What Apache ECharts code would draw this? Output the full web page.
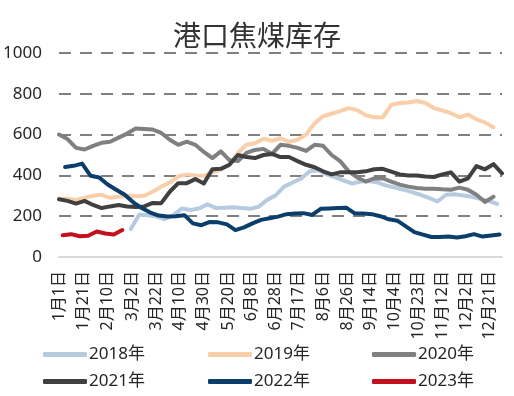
<!DOCTYPE html>
<html>
<head>
<meta charset="utf-8">
<script src="https://cdn.jsdelivr.net/npm/echarts@6/dist/echarts.min.js"></script>
<style>
  html, body { margin: 0; padding: 0; background: #fff; }
  #chart { width: 514px; height: 396px; }
</style>
</head>
<body>
<div id="chart"></div>
<script>
// --- 数据 ---
const TITLE = '港口焦煤库存';
const MONTH_DAYS = [31, 28, 31, 30, 31, 30, 31, 31, 30, 31, 30, 31];
const TICK_LABELS = ['1月1日', '1月21日', '2月10日', '3月2日', '3月22日', '4月10日', '4月30日',
  '5月20日', '6月8日', '6月28日', '7月17日', '8月6日', '8月26日', '9月14日', '10月4日',
  '10月23日', '11月12日', '12月2日', '12月21日'];
const Y_TICKS = [0, 200, 400, 600, 800, 1000];

// 周度数据，首个数据所在的日序号
const START_2018 = 59;
const START_2019 = 0;
const START_2020 = 0;
const START_2021 = 0;
const START_2022 = 5;
const START_2023 = 3;

const data2018 = [137, 208, 205, 198, 185, 205, 238, 230, 238, 258, 240, 242, 244, 240, 236, 246,
  280, 302, 345, 365, 385, 420, 425, 405, 390, 375, 360, 370, 372, 365, 350, 340, 330, 318, 305,
  290, 272, 305, 308, 302, 295, 285, 275, 260];
const data2019 = [285, 285, 280, 290, 300, 305, 290, 295, 300, 298, 300, 320, 345, 365, 395, 405,
  400, 398, 415, 430, 450, 510, 550, 558, 580, 570, 582, 565, 575, 600, 655, 690, 702, 715, 730,
  720, 695, 685, 685, 745, 755, 757, 765, 755, 730, 718, 705, 685, 698, 675, 660, 636];
const data2020 = [600, 578, 535, 527, 545, 560, 565, 585, 605, 630, 628, 625, 608, 575, 550, 565,
  550, 515, 485, 518, 475, 470, 510, 525, 530, 505, 550, 545, 535, 520, 550, 545, 500, 470, 420,
  390, 370, 385, 385, 370, 355, 345, 338, 335, 335, 332, 330, 340, 330, 305, 270, 295];
const data2021 = [283, 275, 262, 275, 255, 240, 248, 255, 248, 245, 248, 265, 264, 320, 362, 362,
  382, 360, 430, 432, 452, 500, 490, 485, 500, 505, 490, 490, 470, 452, 440, 420, 405, 415, 415,
  415, 420, 430, 432, 418, 405, 400, 400, 395, 392, 405, 415, 370, 385, 446, 430, 455, 410];
const data2022 = [441, 447, 458, 398, 390, 355, 330, 305, 268, 240, 218, 203, 198, 200, 205, 165,
  156, 172, 170, 160, 132, 145, 165, 182, 190, 198, 210, 213, 215, 206, 236, 238, 240, 242, 214,
  213, 210, 200, 185, 178, 150, 122, 110, 98, 98, 100, 96, 102, 112, 100, 105, 110];
const data2023 = [107, 112, 102, 104, 125, 115, 110, 132];

const COLORS = {
  y2018: '#b7cbe0',
  y2019: '#f9cfaa',
  y2020: '#808080',
  y2021: '#404040',
  y2022: '#0c3e6c',
  y2023: '#c3101e'
};

// 日期类目（平年）
const categories = [];
MONTH_DAYS.forEach((n, m) => {
  for (let d = 1; d <= n; d++) categories.push(`${m + 1}月${d}日`);
});

const toWeekly = (values, start) => values.map((v, k) => [start + k * 7, v]);

const SERIES_LIST = [
  { name: '2018年', values: data2018, start: START_2018, color: COLORS.y2018 },
  { name: '2019年', values: data2019, start: START_2019, color: COLORS.y2019 },
  { name: '2020年', values: data2020, start: START_2020, color: COLORS.y2020 },
  { name: '2021年', values: data2021, start: START_2021, color: COLORS.y2021 },
  { name: '2022年', values: data2022, start: START_2022, color: COLORS.y2022 },
  { name: '2023年', values: data2023, start: START_2023, color: COLORS.y2023 }
];

// 图例位置：两行三列
const LEGEND_POS = [
  { left: 43, top: 346 }, { left: 208, top: 346 }, { left: 372, top: 346 },
  { left: 43, top: 373 }, { left: 208, top: 373 }, { left: 372, top: 373 }
];

const FONT = '"Noto Sans", "Noto Sans CJK SC", sans-serif';

const chart = echarts.init(document.getElementById('chart'));

const option = {
  backgroundColor: '#fff',
  animation: false,
  title: {
    text: TITLE,
    left: 'center',
    top: 16,
    textStyle: {
      fontFamily: '"Noto Sans CJK SC", sans-serif',
      fontSize: 28,
      fontWeight: 'normal',
      color: '#333'
    }
  },
  legend: SERIES_LIST.map((s, i) => ({
    data: [s.name],
    left: LEGEND_POS[i].left,
    top: LEGEND_POS[i].top,
    padding: 0,
    icon: 'roundRect',
    itemWidth: 44,
    itemHeight: 5,
    selectedMode: false,
    textStyle: { fontFamily: FONT, fontSize: 17, color: '#262626', padding: [0, 0, 0, -3] }
  })),
  grid: {
    left: 59,
    right: 12,
    top: 53,
    bottom: 139,
    containLabel: false
  },
  xAxis: {
    type: 'category',
    data: categories,
    boundaryGap: false,
    axisLine: { lineStyle: { color: '#d9d9d9', width: 2 } },
    axisTick: { show: false },
    axisLabel: {
      interval: (idx, val) => TICK_LABELS.includes(val),
      rotate: 90,
      margin: 14,
      fontFamily: FONT,
      fontSize: 16,
      color: '#262626'
    },
    splitLine: { show: false }
  },
  yAxis: {
    type: 'value',
    min: Y_TICKS[0],
    max: Y_TICKS[Y_TICKS.length - 1],
    interval: 200,
    axisLine: { show: false },
    axisTick: { show: false },
    axisLabel: {
      margin: 17,
      fontFamily: FONT,
      fontSize: 17,
      color: '#262626',
      formatter: (v) => String(v)
    },
    splitLine: {
      lineStyle: {
        // 0 处不画虚线，用 x 轴线代替
        color: Y_TICKS.map((t) => (t === 0 ? 'rgba(0,0,0,0)' : '#808080')),
        width: 2,
        type: [12, 9]
      }
    }
  },
  series: SERIES_LIST.map((s) => ({
    name: s.name,
    type: 'line',
    data: toWeekly(s.values, s.start),
    symbol: 'none',
    smooth: false,
    color: s.color,
    lineStyle: { color: s.color, width: 4, cap: 'round', join: 'round' }
  }))
};

chart.setOption(option);
</script>
</body>
</html>
